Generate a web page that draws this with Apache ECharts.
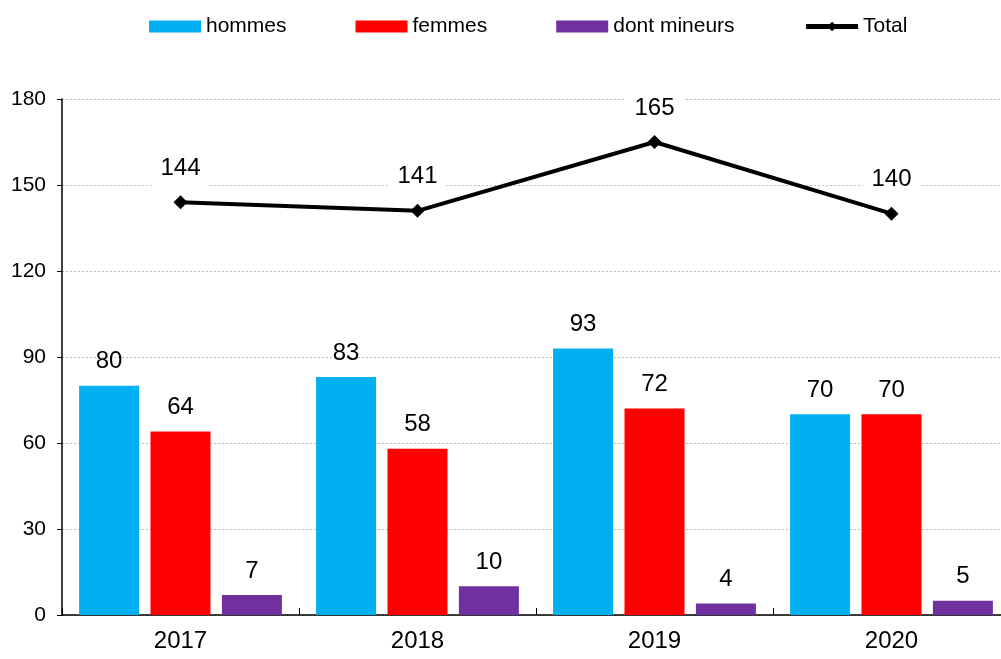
<!DOCTYPE html>
<html><head><meta charset="utf-8">
<script src="https://cdn.jsdelivr.net/npm/echarts@6/dist/echarts.min.js"></script>
<style>html,body{margin:0;padding:0;background:#fff}#c{width:1001px;height:659px}</style>
</head><body><div id="c"></div>
<script>
const categories = ['2017','2018','2019','2020'];
const hommes = [80, 83, 93, 70];
const femmes = [64, 58, 72, 70];
const mineurs = [7, 10, 4, 5];
const total = [144, 141, 165, 140];
const yTicks = {min: 0, max: 180, interval: 30};

const chart = echarts.init(document.getElementById('c'));
const font = 'Liberation Sans, Arial, sans-serif';
const barLabel = {show: true, position: 'top', distance: 12, color: '#000', fontSize: 24, fontFamily: font};
chart.setOption({
  animation: false,
  textStyle: {fontFamily: font},
  legend: {
    top: 11, left: 144, itemWidth: 52, itemHeight: 12, itemGap: 69,
    textStyle: {fontSize: 21, color: '#000', fontFamily: font},
    data: [
      {name: 'hommes', icon: 'rect'},
      {name: 'femmes', icon: 'rect'},
      {name: 'dont mineurs', icon: 'rect'},
      {name: 'Total', itemStyle: {color: '#000'}, lineStyle: {width: 5, color: '#000'}}
    ]
  },
  grid: {left: 62, width: 948, top: 99, bottom: 44, containLabel: false, outerBoundsMode: 'none'},
  xAxis: {
    type: 'category', data: categories,
    axisLine: {lineStyle: {color: '#000', width: 1.5}},
    axisTick: {show: true, inside: true, length: 7, lineStyle: {color: '#000'}},
    axisLabel: {fontSize: 24, color: '#000', margin: 14, fontFamily: font}
  },
  yAxis: {
    type: 'value', min: yTicks.min, max: yTicks.max, interval: yTicks.interval,
    axisLine: {show: true, lineStyle: {color: '#000', width: 1.5}},
    axisTick: {show: true, length: 5, lineStyle: {color: '#000'}},
    axisLabel: {fontSize: 21, color: '#000', margin: 16, fontFamily: font},
    splitLine: {lineStyle: {color: '#bbb', type: [2, 2], width: 1}}
  },
  series: [
    {name: 'hommes', type: 'bar', data: hommes, barWidth: 60, barGap: '19%',
     itemStyle: {color: '#00B0F0'}, label: barLabel},
    {name: 'femmes', type: 'bar', data: femmes, barWidth: 60, barGap: '19%',
     itemStyle: {color: '#FF0000'}, label: barLabel},
    {name: 'dont mineurs', type: 'bar', data: mineurs, barWidth: 60, barGap: '19%',
     itemStyle: {color: '#7030A0'}, label: barLabel},
    {name: 'Total', type: 'line', data: total, symbol: 'diamond', symbolSize: 14,
     lineStyle: {color: '#000', width: 4}, itemStyle: {color: '#000'},
     z: 5,
     label: {show: true, position: 'top', distance: 9, color: '#000', fontSize: 24,
       fontFamily: font, backgroundColor: '#fff', padding: [4, 9, 6, 9]}}
  ]
});
</script></body></html>
